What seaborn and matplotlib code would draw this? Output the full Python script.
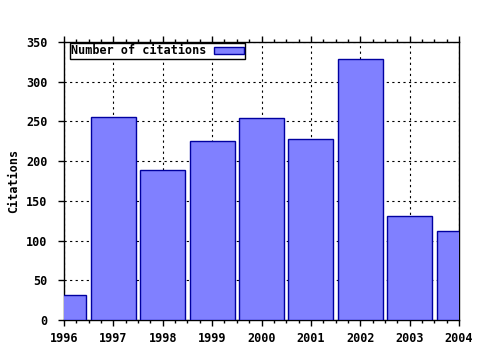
import matplotlib
matplotlib.use("Agg")
import matplotlib.pyplot as plt
import seaborn as sns
import pandas as pd
from matplotlib.ticker import AutoMinorLocator
from matplotlib.patches import Patch

years = [1996, 1997, 1998, 1999, 2000, 2001, 2002, 2003, 2004]
citations = [31, 255, 189, 225, 254, 228, 328, 131, 112]
series_label = "Number of citations"

sns.set_theme(style="white")
plt.rcParams['font.family'] = ['DejaVu Sans Mono']
plt.rcParams['font.weight'] = 'bold'
plt.rcParams['text.color'] = 'black'
plt.rcParams['axes.labelcolor'] = 'black'

FS = 8.5
df = pd.DataFrame({"year": years, "cit": citations})

fig = plt.figure(figsize=(4.8, 3.5), dpi=100)
ax = fig.add_axes([64/480, 1-320/350, (459-64)/480, (320-42)/350])
sns.barplot(data=df, x="year", y="cit", native_scale=True, width=0.91,
            color="#8080ff", saturation=1, edgecolor="#0000a0", linewidth=1,
            ax=ax, zorder=3)
ax.set_xlim(1996, 2004)
ax.set_ylim(0, 350)
ax.set_xticks(years)
ax.set_xticklabels([str(y) for y in years], fontsize=FS, fontweight='bold')
ax.set_yticks(range(0, 351, 50))
ax.set_yticklabels([str(v) for v in range(0, 351, 50)], fontsize=FS, fontweight='bold')
ax.xaxis.set_minor_locator(AutoMinorLocator(4))
ax.grid(True, which='major', linestyle=(0, (2, 3)), color='black', linewidth=0.8, zorder=0)
ax.set_axisbelow(True)
for s in ax.spines.values():
    s.set_color('black')
    s.set_linewidth(1)
ax.tick_params(axis='both', which='major', direction='out', length=4, width=1,
               color='black', colors='black')
ax.tick_params(axis='x', which='major', top=True, bottom=True, pad=5)
ax.tick_params(axis='y', which='major', left=True, right=False, pad=8)
ax.tick_params(axis='x', which='minor', direction='out', length=2, width=1,
               top=True, bottom=True, color='black')
ax.set_xlabel("")
ax.set_ylabel("Citations", fontsize=FS, fontweight='bold', labelpad=4, color='black')

handle = Patch(facecolor="#8080ff", edgecolor="#0000a0")
leg = ax.legend([handle], [series_label], loc='upper left', bbox_to_anchor=(0.012, 1.0),
                markerfirst=False, fancybox=False, framealpha=1, edgecolor='black',
                prop={'family': 'DejaVu Sans Mono', 'weight': 'bold', 'size': FS},
                borderpad=0.1, handlelength=2.6, handleheight=0.55, handletextpad=0.6,
                borderaxespad=0.1, labelcolor='black')
leg.get_frame().set_linewidth(1)
leg.set_zorder(5)

fig.savefig("out.png", dpi=100)
